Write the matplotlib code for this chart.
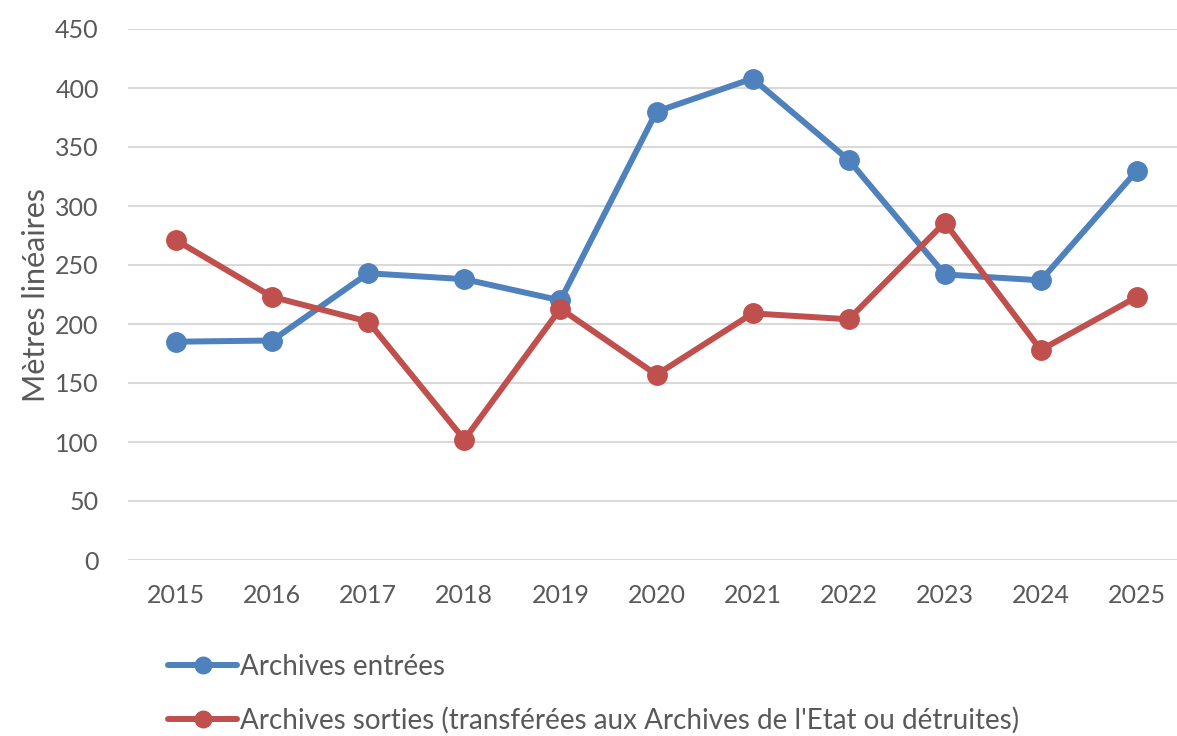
import matplotlib
matplotlib.use("Agg")
import matplotlib.pyplot as plt

# Archives entrées / sorties par année (mètres linéaires)
years = ["2015", "2016", "2017", "2018", "2019", "2020", "2021", "2022", "2023", "2024", "2025"]
entrees = [185, 186, 243, 238, 220, 380, 408, 339, 242, 237, 330]
sorties = [271, 223, 202, 102, 213, 157, 209, 204, 286, 178, 223]

label_entrees = "Archives entrées"
label_sorties = "Archives sorties (transférées aux Archives de l'Etat ou détruites)"

blue = "#4F81BD"
red = "#C0504D"
grey = "#595959"

plt.rcParams['font.family'] = ['Lato', 'DejaVu Sans']

fig = plt.figure(figsize=(11.77, 7.36), dpi=100)
ax = fig.add_axes([128 / 1177, 176 / 736, 1057 / 1177, 531 / 736])

x = range(len(years))
ax.plot(x, entrees, color=blue, lw=4.3, marker="o", ms=14, label=label_entrees, solid_capstyle="round")
ax.plot(x, sorties, color=red, lw=4.3, marker="o", ms=14, label=label_sorties, solid_capstyle="round")

ax.set_xlim(-0.5, len(years) - 0.5)
ax.set_ylim(0, 450)
ax.set_yticks(range(0, 451, 50))
ax.set_xticks(list(x))
ax.set_xticklabels(years)

ax.grid(axis="y", color="#D9D9D9", lw=1.5)
ax.set_axisbelow(True)
for s in ax.spines.values():
    s.set_visible(False)
ax.tick_params(axis="both", length=0, labelsize=18, colors=grey)
ax.tick_params(axis="y", pad=21)
ax.tick_params(axis="x", pad=17)

ax.set_ylabel("Mètres linéaires", fontsize=22, color=grey, labelpad=4)

fig.legend(loc="upper left", bbox_to_anchor=(168 / 1177, 1 - 654 / 736), frameon=False,
           fontsize=20, labelcolor=grey, handlelength=2.5, handletextpad=0.1,
           labelspacing=0.95, borderaxespad=0, borderpad=0, markerscale=0.85)

fig.savefig("out.png", dpi=100)
